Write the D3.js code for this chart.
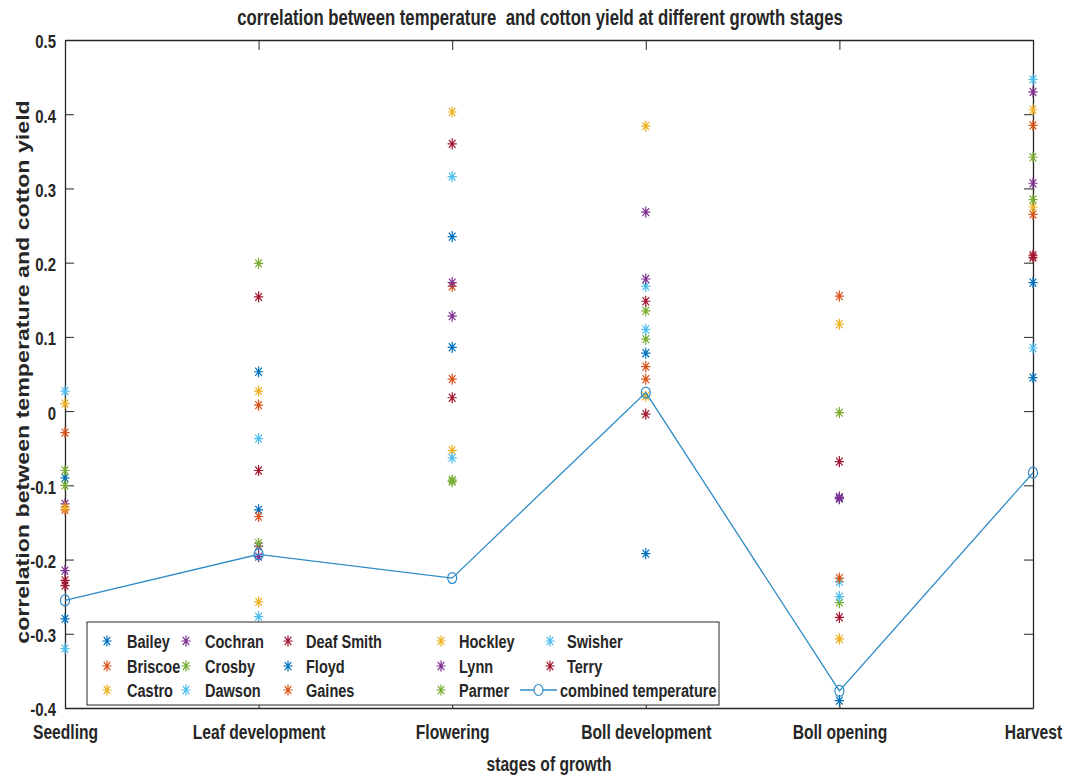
<!doctype html>
<html>
<head>
<meta charset="utf-8">
<title>correlation between temperature and cotton yield</title>
<script src="https://cdnjs.cloudflare.com/ajax/libs/d3/7.8.5/d3.min.js"></script>
<style>
  body { margin: 0; background: #fff; }
  text { font-family: "Liberation Sans", Arial, sans-serif; font-weight: bold; fill: #262626; }
</style>
</head>
<body>
<div id="chart"></div>
<script>
// stages on the x axis
let stages = ["Seedling", "Leaf development", "Flowering", "Boll development", "Boll opening", "Harvest"];

// county names, in plotting order
let counties = ["Bailey", "Briscoe", "Castro", "Cochran", "Crosby", "Dawson", "Deaf Smith",
                "Floyd", "Gaines", "Hockley", "Lynn", "Parmer", "Swisher", "Terry"];

// one row per county, one value per stage
let bailey    = [-0.090,  0.053,  0.235, 0.078, -0.117, 0.173];
let briscoe   = [-0.029,  0.008,  0.168, 0.060,  0.155, 0.385];
let castro    = [ 0.010,  0.027,  0.403, 0.384,  0.117, 0.406];
let cochran   = [-0.125, -0.182,  0.173, 0.268, -0.116, 0.430];
let crosby    = [-0.080,  0.199, -0.093, 0.135, -0.002, 0.342];
let dawson    = [ 0.027, -0.037,  0.316, 0.168, -0.230, 0.447];
let deafSmith = [-0.228,  0.154,  0.360, 0.148, -0.068, 0.207];
let floyd     = [-0.280, -0.133,  0.086, -0.192, -0.390, 0.045];
let gaines    = [-0.133, -0.142,  0.043, 0.043, -0.225, 0.265];
let hockley   = [-0.130, -0.257, -0.053, 0.020, -0.307, 0.275];
let lynn      = [-0.215, -0.196,  0.128, 0.178, -0.118, 0.307];
let parmer    = [-0.100, -0.178, -0.095, 0.097, -0.258, 0.285];
let swisher   = [-0.320, -0.277, -0.063, 0.110, -0.250, 0.085];
let terry     = [-0.235, -0.080,  0.018, -0.004, -0.278, 0.210];

let series = [bailey, briscoe, castro, cochran, crosby, dawson, deafSmith,
              floyd, gaines, hockley, lynn, parmer, swisher, terry];

// combined temperature line
let combined = [-0.255, -0.193, -0.225, 0.025, -0.377, -0.083];

// y tick labels
let yTicks = [-0.4, -0.3, -0.2, -0.1, 0, 0.1, 0.2, 0.3, 0.4, 0.5];
let yTickLabels = ["-0.4", "-0.3", "-0.2", "-0.1", "0", "0.1", "0.2", "0.3", "0.4", "0.5"];

// matlab default colour order
let colors = ["#0072BD", "#D95319", "#EDB120", "#7E2F8E", "#77AC30", "#4DBEEE", "#A2142F"];
let lineColor = "#2E8BC6";

let W = 1065, H = 776;
let mLeft = 65, mRight = 1033, mTop = 40, mBottom = 708;
// the picture is squashed sideways, so text gets a narrow x scale
let sx = 0.79, stretch = 1.26;

let svg = d3.select("#chart").append("svg")
  .attr("width", W)
  .attr("height", H);

let x = d3.scalePoint().domain(stages).range([mLeft, mRight]).padding(0);
let y = d3.scaleLinear().domain([-0.4, 0.5]).range([mBottom, mTop]);

// asterisk marker like matlab '*', a bit taller than wide
function star(rx, ry) {
  let dx = rx * 0.72, dy = ry * 0.72;
  return `M${-rx},0L${rx},0M0,${-ry}L0,${ry}M${-dx},${-dy}L${dx},${dy}M${-dx},${dy}L${dx},${-dy}`;
}

function addText(parent, tx, ty, str, size, anchor) {
  return parent.append("text")
    .attr("transform", `translate(${tx},${ty}) scale(${sx},1)`)
    .attr("text-anchor", anchor || "start")
    .style("font-size", (size * stretch) + "px")
    .style("white-space", "pre")
    .text(str);
}

// axes (ticks inside)
let yAxisL = d3.axisLeft(y).tickValues(yTicks).tickSizeInner(-9).tickSizeOuter(0)
  .tickFormat((d, i) => yTickLabels[i]);
let yAxisR = d3.axisRight(y).tickValues(yTicks).tickSizeInner(-9).tickSizeOuter(0)
  .tickFormat("");
let xAxisB = d3.axisBottom(x).tickSizeInner(-10).tickSizeOuter(0).tickPadding(17);
let xAxisT = d3.axisTop(x).tickSizeInner(-10).tickSizeOuter(0).tickFormat("");

function styleAxis(g, size) {
  g.select(".domain").attr("stroke", "#262626").attr("stroke-width", 1.3);
  g.selectAll(".tick line").attr("stroke", "#262626").attr("stroke-width", 1);
  g.selectAll(".tick text")
    .attr("fill", "#262626")
    .attr("transform", `scale(${sx},1)`)
    .style("font-size", (size * stretch) + "px")
    .style("font-family", '"Liberation Sans", Arial, sans-serif')
    .style("font-weight", "bold");
}

let gL = svg.append("g").attr("transform", `translate(${mLeft},0)`).call(yAxisL).call(styleAxis, 15);
gL.selectAll(".tick text").attr("x", -9 / sx).attr("dy", "0.42em");
svg.append("g").attr("transform", `translate(${mRight},0)`).call(yAxisR).call(styleAxis, 15);
svg.append("g").attr("transform", `translate(0,${mBottom})`).call(xAxisB).call(styleAxis, 15.7);
svg.append("g").attr("transform", `translate(0,${mTop})`).call(xAxisT).call(styleAxis, 15);

// county markers
series.forEach((vals, k) => {
  svg.append("g").selectAll("path")
    .data(vals)
    .join("path")
    .attr("transform", (d, i) => `translate(${x(stages[i])},${y(d)})`)
    .attr("d", star(4.6, 5.6))
    .attr("stroke", colors[k % 7])
    .attr("stroke-width", 1.2)
    .attr("fill", "none");
});

// combined line
let line = d3.line().x((d, i) => x(stages[i])).y(d => y(d));
svg.append("path")
  .datum(combined)
  .attr("d", line)
  .attr("fill", "none")
  .attr("stroke", lineColor)
  .attr("stroke-width", 1.3);

svg.append("g").selectAll("ellipse")
  .data(combined)
  .join("ellipse")
  .attr("cx", (d, i) => x(stages[i]))
  .attr("cy", d => y(d))
  .attr("rx", 4.5)
  .attr("ry", 5.5)
  .attr("fill", "none")
  .attr("stroke", lineColor)
  .attr("stroke-width", 1.2);

// titles
addText(svg, 540, 25, "correlation between temperature  and cotton yield at different growth stages", 16.8, "middle");
addText(svg, 549, 771, "stages of growth", 15.7, "middle");

svg.append("text")
  .attr("transform", `translate(29,372) rotate(-90) scale(${1 / sx * 0.99},1)`)
  .attr("text-anchor", "middle")
  .style("font-size", "18.5px")
  .text("correlation between temperature and cotton yield");

// legend
let legX = 87, legY = 622, legW = 632, legH = 83;
let legend = svg.append("g");
legend.append("rect")
  .attr("x", legX).attr("y", legY)
  .attr("width", legW).attr("height", legH)
  .attr("fill", "#fff")
  .attr("stroke", "#262626")
  .attr("stroke-width", 1);

let colX = [107, 186, 288, 441, 550];
let textX = [127, 205, 306, 459, 567];
let rowY = [641, 666, 690];

counties.forEach((name, k) => {
  let c = Math.floor(k / 3), cy = rowY[k % 3];
  legend.append("path")
    .attr("transform", `translate(${colX[c]},${cy})`)
    .attr("d", star(4.6, 5.6))
    .attr("stroke", colors[k % 7])
    .attr("stroke-width", 1.2)
    .attr("fill", "none");
  addText(legend, textX[c], cy + 7, name, 14.6);
});

// combined entry
let ly = rowY[2];
legend.append("line")
  .attr("x1", 520).attr("x2", 557).attr("y1", ly).attr("y2", ly)
  .attr("stroke", lineColor).attr("stroke-width", 1.3);
legend.append("ellipse")
  .attr("cx", 538.5).attr("cy", ly).attr("rx", 4.5).attr("ry", 5.5)
  .attr("fill", "#fff").attr("stroke", lineColor).attr("stroke-width", 1.2);
addText(legend, 560, ly + 7, "combined temperature", 14.6);
</script>
</body>
</html>
